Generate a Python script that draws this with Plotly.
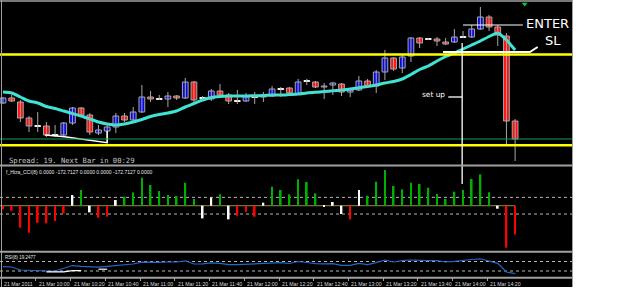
import plotly.graph_objects as go

W, H = 625, 297

# ---------------- data ----------------
bar_index = list(range(60))

open_p = [1.4062, 1.4067, 1.4063, 1.4047, 1.4039, 1.4039, 1.4030, 1.4030, 1.4042, 1.4057,
          1.4050, 1.4032, 1.4034, 1.4038, 1.4049, 1.4045, 1.4053, 1.4068, 1.4066, 1.4066,
          1.4069, 1.4067, 1.4083, 1.4067, 1.4066, 1.4074, 1.4070, 1.4064, 1.4064, 1.4068,
          1.4068, 1.4069, 1.4076, 1.4077, 1.4071, 1.4084, 1.4083, 1.4078, 1.4080, 1.4081,
          1.4073, 1.4075, 1.4084, 1.4079, 1.4093, 1.4107, 1.4097, 1.4109, 1.4127, 1.4126,
          1.4126, 1.4123, 1.4123, 1.4128, 1.4128, 1.4136, 1.4148, 1.4138, 1.4129, 1.4044]
high_p = [1.4068, 1.4070, 1.4065, 1.4049, 1.4053, 1.4043, 1.4040, 1.4043, 1.4058, 1.4058,
          1.4052, 1.4040, 1.4042, 1.4052, 1.4052, 1.4058, 1.4080, 1.4074, 1.4070, 1.4073,
          1.4070, 1.4087, 1.4084, 1.4069, 1.4076, 1.4081, 1.4072, 1.4075, 1.4072, 1.4073,
          1.4073, 1.4079, 1.4078, 1.4078, 1.4086, 1.4086, 1.4084, 1.4082, 1.4083, 1.4082,
          1.4076, 1.4089, 1.4086, 1.4095, 1.4115, 1.4108, 1.4110, 1.4128, 1.4128, 1.4127,
          1.4128, 1.4127, 1.4136, 1.4134, 1.4140, 1.4158, 1.4150, 1.4140, 1.4132, 1.4046]
low_p = [1.4061, 1.4063, 1.4043, 1.4033, 1.4033, 1.4028, 1.4028, 1.4028, 1.4040, 1.4049,
         1.4030, 1.4030, 1.4023, 1.4032, 1.4043, 1.4044, 1.4052, 1.4063, 1.4065, 1.4058,
         1.4065, 1.4066, 1.4063, 1.4065, 1.4064, 1.4069, 1.4061, 1.4061, 1.4063, 1.4061,
         1.4063, 1.4068, 1.4068, 1.4071, 1.4070, 1.4080, 1.4077, 1.4066, 1.4070, 1.4069,
         1.4068, 1.4074, 1.4078, 1.4072, 1.4085, 1.4094, 1.4092, 1.4103, 1.4117, 1.4125,
         1.4119, 1.4120, 1.4122, 1.4127, 1.4127, 1.4135, 1.4134, 1.4119, 1.4020, 1.4004]
close_p = [1.4067, 1.4064, 1.4047, 1.4039, 1.4039, 1.4030, 1.4030, 1.4042, 1.4057, 1.4050,
           1.4033, 1.4035, 1.4038, 1.4049, 1.4045, 1.4053, 1.4068, 1.4066, 1.4066, 1.4069,
           1.4067, 1.4083, 1.4065, 1.4067, 1.4074, 1.4070, 1.4064, 1.4064, 1.4068, 1.4068,
           1.4069, 1.4076, 1.4076, 1.4072, 1.4083, 1.4084, 1.4078, 1.4079, 1.4082, 1.4073,
           1.4075, 1.4084, 1.4079, 1.4093, 1.4107, 1.4096, 1.4108, 1.4127, 1.4122, 1.4126,
           1.4124, 1.4121, 1.4128, 1.4128, 1.4136, 1.4148, 1.4138, 1.4130, 1.4044, 1.4026]

ma_p = [1.4073, 1.4072, 1.4068, 1.4064, 1.4062, 1.40585, 1.40565, 1.4054, 1.40515, 1.4049,
        1.4046, 1.4043, 1.4041, 1.4040, 1.4041, 1.4043, 1.40455, 1.40485, 1.40505, 1.4052,
        1.4054, 1.4058, 1.40615, 1.4065, 1.40675, 1.40685, 1.4069, 1.4069, 1.4069, 1.40693,
        1.40695, 1.4070, 1.4070, 1.40705, 1.4071, 1.4072, 1.40727, 1.40735, 1.40742, 1.4075,
        1.4076, 1.40773, 1.40785, 1.4080, 1.4082, 1.40835, 1.4086, 1.40905, 1.40955, 1.4099,
        1.4104, 1.41085, 1.4112, 1.4116, 1.4120, 1.4124, 1.41285, 1.4132, 1.4125, 1.4115]

cci_vals = [-22, -30, -132, -162, -102, -106, -92, -46, 64, 94,
            -40, -72, -66, 34, 54, 80, 168, 124, 88, 64,
            58, 138, 40, -76, 48, 68, -82, -60, -36, -66,
            18, 114, 94, 68, 158, 142, 74, -8, 22, -50,
            -82, 94, 60, 144, 214, 118, 98, 138, 130, 108,
            70, 40, 84, 94, 160, 188, 80, -18, -252, -172.7]
cci_state = ["bear"] * 8 + ["cross", "bull", "cross", "bear", "bear", "cross"] + ["bull"] * 9 + \
            ["cross", "cross", "bull", "cross", "bear", "bear", "bear", "cross"] + ["bull"] * 6 + \
            ["cross", "cross", "cross", "bear", "cross"] + ["bull"] * 15 + ["cross", "bear", "bear"]

rsi_vals = [48.1, 46.8, 34.2, 32.1, 30.8, 30.0, 30.0, 40.5, 53.0, 49.8,
            49.0, 46.0, 49.8, 52.7, 55.3, 59.5, 67.0, 65.4, 66.2, 67.9,
            67.9, 73.0, 59.5, 60.3, 64.5, 62.4, 57.0, 56.5, 58.6, 61.0,
            62.8, 65.0, 65.0, 61.6, 70.0, 65.8, 60.7, 60.3, 61.1, 54.0,
            54.0, 62.0, 57.0, 65.0, 76.3, 67.9, 73.8, 76.3, 73.8, 73.4,
            73.4, 67.9, 70.4, 73.0, 78.4, 81.4, 72.1, 62.4, 25.8, 19.2]
rsi_mark = [None] * 5 + [26.6, 26.6, 26.6, 31.3, 31.3, None, 37.6, 37.6] + [None] * 47

tick_bars = [0, 4, 8, 12, 16, 20, 24, 28, 32, 36, 40, 44, 48, 52, 56]
tick_labels = ["21 Mar 2011", "21 Mar 10:00", "21 Mar 10:20", "21 Mar 10:40", "21 Mar 11:00",
               "21 Mar 11:20", "21 Mar 11:40", "21 Mar 12:00", "21 Mar 12:20", "21 Mar 12:40",
               "21 Mar 13:00", "21 Mar 13:20", "21 Mar 13:40", "21 Mar 14:00", "21 Mar 14:20"]

yellow_levels = [1.41105, 1.40197]
green_level = 1.4026
enter_price = 1.4140
enter_bars = [53.0, 59.9]
sl_path_x = [50.7, 60.7, 61.6]
sl_path_y = [1.4113, 1.4113, 1.4118]
setup_bar = 52.9
setup_top_price = 1.4122
setup_bottom_cci = 130
setup_tick_x = [51.3, 52.9]
setup_tick_y = [1.4068, 1.4068]
trend_x = [4.85, 7.1, 12.0, 12.0]
trend_y = [1.4030, 1.40283, 1.40223, 1.4034]
arrow_x = [60.1]
arrow_y = [1.4161]

spread_text = "Spread: 19. Next Bar in 00:29"
cci_label = "f_Hiza_CCI(8) 0.0000 -172.7127 0.0000 0.0000 -172.7127 0.0000"
rsi_label = "RSI(8) 19.2477"

# ---------------- layout helpers ----------------
def px_x(px):
    return px / W

def px_y(py):
    return 1 - py / H

X_DOM = [0, px_x(573)]
X_RANGE = [-0.3456, 65.67]
MAIN_DOM = [px_y(165), px_y(2)]
CCI_DOM = [px_y(251), px_y(167)]
RSI_DOM = [px_y(277), px_y(253)]
MAIN_RANGE = [1.4000, 1.4163]
CCI_RANGE = [-271.8, 232.2]
RSI_RANGE = [4.74, 105.8]


def to_paper(v, dom, rng):
    return dom[0] + (v - rng[0]) / (rng[1] - rng[0]) * (dom[1] - dom[0])


BULL = "#0808D8"
BEAR = "#FF1010"
OUTLINE = "#A8A8A8"

fig = go.Figure()

# moving average
fig.add_trace(go.Scatter(x=bar_index, y=ma_p, mode="lines",
                         line=dict(color="#3FE3D3", width=3, shape="spline", smoothing=0.6),
                         xaxis="x", yaxis="y", hoverinfo="skip"))

# wicks
wx, wy = [], []
for i, lo, hi in zip(bar_index, low_p, high_p):
    wx += [i, i, None]
    wy += [lo, hi, None]
fig.add_trace(go.Scatter(x=wx, y=wy, mode="lines", line=dict(color=OUTLINE, width=1),
                         xaxis="x", yaxis="y", hoverinfo="skip"))

# bodies
base, height, fill, edge = [], [], [], []
for o, c in zip(open_p, close_p):
    d = round(c - o, 6)
    if abs(d) < 1e-9:
        base.append(o - 0.00004)
        height.append(0.00008)
        fill.append("#FFFFFF")
        edge.append("#FFFFFF")
    else:
        base.append(min(o, c))
        height.append(abs(d))
        fill.append(BULL if d > 0 else BEAR)
        edge.append(OUTLINE)
fig.add_trace(go.Bar(x=bar_index, y=height, base=base, width=0.66,
                     marker=dict(color=fill, line=dict(color=edge, width=1)),
                     xaxis="x", yaxis="y", hoverinfo="skip"))

# drawn trendline bottom-left
fig.add_trace(go.Scatter(x=trend_x, y=trend_y, mode="lines", line=dict(color="#FFFFFF", width=1.5),
                         xaxis="x", yaxis="y", hoverinfo="skip"))
# SL line
fig.add_trace(go.Scatter(x=sl_path_x, y=sl_path_y, mode="lines", line=dict(color="#FFFFFF", width=2),
                         xaxis="x", yaxis="y", hoverinfo="skip"))
# set up pointer
fig.add_trace(go.Scatter(x=setup_tick_x, y=setup_tick_y, mode="lines", line=dict(color="#FFFFFF", width=1.3),
                         xaxis="x", yaxis="y", hoverinfo="skip"))
# green arrow at top
fig.add_trace(go.Scatter(x=arrow_x, y=arrow_y, mode="markers",
                         marker=dict(symbol="triangle-down", size=5, color="#00D040"),
                         xaxis="x", yaxis="y", hoverinfo="skip"))

# CCI histogram
state_color = {"bull": "#00B000", "bear": "#FF0000", "cross": "#FFFFFF"}
fig.add_trace(go.Bar(x=bar_index, y=cci_vals, width=0.2,
                     marker=dict(color=[state_color[s] for s in cci_state], line=dict(width=0)),
                     xaxis="x2", yaxis="y2", hoverinfo="skip"))

# RSI
fig.add_trace(go.Scatter(x=bar_index, y=rsi_vals, mode="lines", line=dict(color="#2468C8", width=1.2),
                         xaxis="x3", yaxis="y3", hoverinfo="skip"))
fig.add_trace(go.Scatter(x=bar_index, y=rsi_mark, mode="lines", line=dict(color="#FFFFFF", width=1.2),
                         xaxis="x3", yaxis="y3", hoverinfo="skip"))

shapes = []
# black background panel
shapes.append(dict(type="rect", xref="paper", yref="paper", x0=0, x1=px_x(573), y0=px_y(287), y1=1,
                   fillcolor="#000000", line=dict(width=0), layer="below"))
# price levels
for lv in yellow_levels:
    shapes.append(dict(type="line", xref="x domain", yref="y", x0=0, x1=1, y0=lv, y1=lv,
                       line=dict(color="#FFFF00", width=2.5), layer="above"))
shapes.append(dict(type="line", xref="x domain", yref="y", x0=0, x1=1, y0=green_level, y1=green_level,
                   line=dict(color="#10A050", width=1), layer="above"))
# ENTER line
shapes.append(dict(type="line", xref="x", yref="y", x0=enter_bars[0], x1=enter_bars[1],
                   y0=enter_price, y1=enter_price, line=dict(color="#FFFFFF", width=1), layer="above"))
# set up vertical across panels
shapes.append(dict(type="line", xref="x", yref="paper", x0=setup_bar, x1=setup_bar,
                   y0=to_paper(setup_bottom_cci, CCI_DOM, CCI_RANGE),
                   y1=to_paper(setup_top_price, MAIN_DOM, MAIN_RANGE),
                   line=dict(color="#FFFFFF", width=1.3), layer="above"))
# CCI zero line and levels
shapes.append(dict(type="line", xref="x2", yref="y2", x0=X_RANGE[0], x1=bar_index[-1], y0=0, y1=0,
                   line=dict(color="#7A7030", width=1.2), layer="below"))
for lv in (50, -50):
    shapes.append(dict(type="line", xref="x2 domain", yref="y2", x0=0, x1=1, y0=lv, y1=lv,
                       line=dict(color="#B8B8B8", width=1, dash="dot"), layer="below"))
for lv in (30, 70):
    shapes.append(dict(type="line", xref="x3 domain", yref="y3", x0=0, x1=1, y0=lv, y1=lv,
                       line=dict(color="#B8B8B8", width=1, dash="dot"), layer="below"))
# separators / borders
for py, wdt in ((1, 1.5), (165.5, 2), (251.7, 2), (277.7, 2)):
    shapes.append(dict(type="line", xref="paper", yref="paper", x0=0, x1=px_x(573), y0=px_y(py), y1=px_y(py),
                       line=dict(color="#A0A0A0", width=wdt), layer="above"))
for px in (1.5, 572.5):
    shapes.append(dict(type="line", xref="paper", yref="paper", x0=px_x(px), x1=px_x(px), y0=px_y(287), y1=1,
                       line=dict(color="#A0A0A0", width=1), layer="above"))

annotations = []
annotations.append(dict(text="ENTER", x=62.7, y=1.41415, xref="x", yref="y", showarrow=False,
                        font=dict(family="DejaVu Sans", size=13, color="#FFFFFF")))
annotations.append(dict(text="SL", x=63.4, y=1.4124, xref="x", yref="y", showarrow=False,
                        font=dict(family="DejaVu Sans", size=13, color="#FFFFFF")))
annotations.append(dict(text="set up", x=49.6, y=1.40705, xref="x", yref="y", showarrow=False,
                        font=dict(family="DejaVu Sans", size=7.4, color="#FFFFFF")))
annotations.append(dict(text=spread_text, x=px_x(7), y=px_y(160.5), xref="paper", yref="paper",
                        xanchor="left", yanchor="middle", showarrow=False,
                        font=dict(family="DejaVu Sans Mono", size=7.2, color="#C8C8C8")))
annotations.append(dict(text=cci_label, x=px_x(4), y=px_y(172), xref="paper", yref="paper",
                        xanchor="left", yanchor="middle", showarrow=False,
                        font=dict(family="Liberation Sans", size=5, color="#E8E8E8")))
annotations.append(dict(text=rsi_label, x=px_x(3), y=px_y(257.3), xref="paper", yref="paper",
                        xanchor="left", yanchor="middle", showarrow=False,
                        font=dict(family="Liberation Sans", size=4.5, color="#E8E8E8")))
for b, lab in zip(tick_bars, tick_labels):
    annotations.append(dict(text=lab, x=b - 0.1, y=px_y(283.5), xref="x3", yref="paper",
                            xanchor="left", yanchor="middle", showarrow=False,
                            font=dict(family="Liberation Sans", size=5.2, color="#D8D8D8")))

axis_common = dict(range=X_RANGE, domain=X_DOM, showgrid=False, zeroline=False,
                   showticklabels=False, showline=False, fixedrange=True)

fig.update_layout(
    width=W, height=H, autosize=False,
    margin=dict(l=0, r=0, t=0, b=0, pad=0),
    paper_bgcolor="#FFFFFF", plot_bgcolor="#000000",
    showlegend=False, barmode="overlay",
    xaxis=dict(anchor="y", **axis_common),
    xaxis2=dict(anchor="y2", **axis_common),
    xaxis3=dict(anchor="y3", ticks="outside", ticklen=3, tickcolor="#A0A0A0", tickwidth=1,
                tickvals=[b - 0.2 for b in tick_bars], **axis_common),
    yaxis=dict(domain=MAIN_DOM, range=MAIN_RANGE, anchor="x", showgrid=False, zeroline=False,
               showticklabels=False, fixedrange=True),
    yaxis2=dict(domain=CCI_DOM, range=CCI_RANGE, anchor="x2", showgrid=False, zeroline=False,
                showticklabels=False, fixedrange=True),
    yaxis3=dict(domain=RSI_DOM, range=RSI_RANGE, anchor="x3", showgrid=False, zeroline=False,
                showticklabels=False, fixedrange=True),
    shapes=shapes, annotations=annotations,
)

fig.write_html("out.html", config={"displayModeBar": False})
